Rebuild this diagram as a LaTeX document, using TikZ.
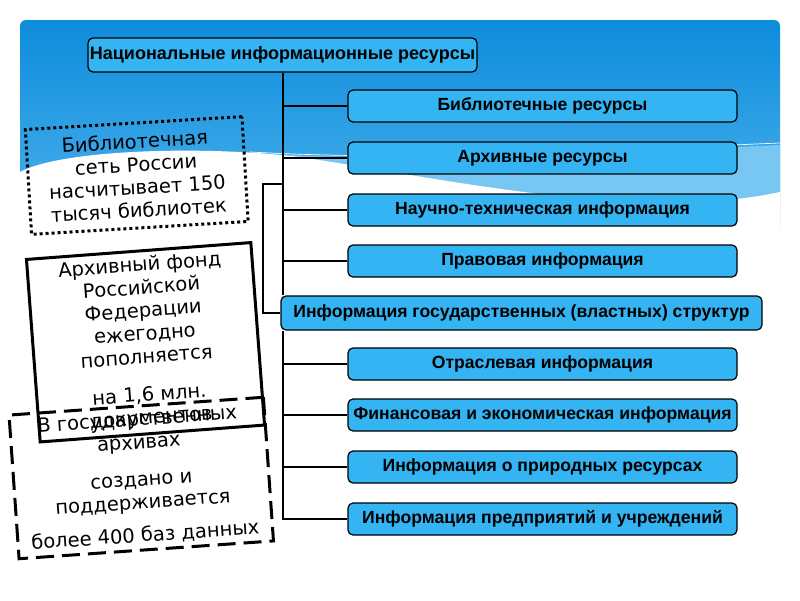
\documentclass[tikz,border=0pt]{standalone}
\usepackage{fontspec}
\setmainfont{DejaVu Sans}
\newfontfamily\boxfont{Liberation Sans}
\definecolor{skytop}{RGB}{13,140,220}
\definecolor{skybot}{RGB}{80,180,238}
\definecolor{skyband}{RGB}{120,198,242}
\definecolor{resblue}{RGB}{52,180,243}
\tikzset{
res/.style={draw,line width=1.2pt,rounded corners=5pt,fill=resblue,minimum width=389pt,minimum height=32pt,inner sep=0pt,font=\boxfont\bfseries\fontsize{17.6}{20}\selectfont},
note/.style={draw,line width=3pt,align=center,inner sep=0pt,font=\fontsize{19.5}{23}\selectfont},
link/.style={line width=2pt}
}
\begin{document}
\begin{tikzpicture}[x=1pt,y=-1pt]
\useasboundingbox(0,0)rectangle(800,600);
\shade[top color=skytop,bottom color=skybot,rounded corners=6pt](20,20)rectangle(780,240);
\fill[skyband](250,153)..controls(450,165)and(650,150)..(780,145)--(780,238)--(250,238)--cycle;
\fill[white](20,172)..controls(60,150)and(200,145)..(300,157)..controls(450,180)and(640,222)..(780,192)--(781,252)--(19,252)--cycle;
\draw[white,line width=0.7pt](250,152)..controls(450,163)and(650,148)..(780,143);
\node[res,minimum height=34pt,font=\boxfont\bfseries\fontsize{18}{20}\selectfont](nir)at(282.5,55){Национальные информационные ресурсы};
\node[res](lib)at(542.5,106){Библиотечные ресурсы};
\node[res](arch)at(542.5,158){Архивные ресурсы};
\node[res](sci)at(542.5,210){Научно-техническая информация};
\node[res](law)at(542.5,261){Правовая информация};
\node[res,minimum width=481pt,minimum height=34pt](gov)at(521.5,313){Информация государственных (властных) структур};
\node[res](ind)at(542.5,364){Отраслевая информация};
\node[res](fin)at(542.5,415){Финансовая и экономическая информация};
\node[res](nat)at(542.5,467){Информация о природных ресурсах};
\node[res](ent)at(542.5,519){Информация предприятий и учреждений};
\draw[link](nir.south)--(nir.south|-gov.north);
\draw[link](nir.south|-gov.south)|-(ent.west);
\foreach \b in {lib,arch,sci,law,ind,fin,nat}
\draw[link](nir.south|-\b.west)--(\b.west);
\coordinate(brk)at(263,184);
\draw[link](nir.south|-brk)--(brk)|-(gov.west);
\node[note,dash pattern=on 3pt off 3pt,minimum width=217pt,minimum height=105pt,rotate=3.4](libnet)at(136.75,175.5){Библиотечная\\сеть России\\насчитывает 150\\тысяч библиотек};
\node[note,minimum width=225pt,minimum height=183pt,rotate=4.3](fund)at(145.5,342.25){Архивный фонд\\Российской\\Федерации\\ежегодно\\пополняется\\[15pt]на 1,6 млн.\\документов};
\node[note,dash pattern=on 18pt off 8pt,minimum width=255pt,minimum height=144pt,rotate=4](dbase)at(141.25,478){В государственных\\архивах\\[14pt]создано и\\поддерживается\\[10pt]более 400 баз данных};
\end{tikzpicture}
\end{document}
